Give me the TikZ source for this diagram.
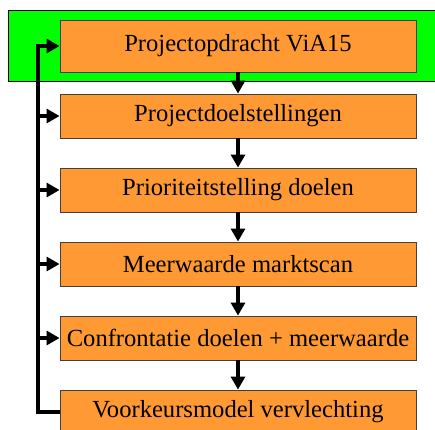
\documentclass[tikz,border=0pt]{standalone}
\usepackage{fontspec}
\setmainfont{Liberation Serif}
\usetikzlibrary{arrows.meta}
\definecolor{stepfill}{HTML}{FF9933}
\definecolor{bandgreen}{HTML}{00FF00}
\begin{document}
\begin{tikzpicture}[x=1pt,y=-1pt,
  stepbox/.style={draw=black!75, line width=0.9pt, fill=stepfill, minimum width=356pt,
    minimum height=44pt, inner sep=0pt, font=\fontsize{24.6}{26}\selectfont},
  flow/.style={line width=3.1pt, -{Triangle[length=13pt,width=14pt]}},
  feed/.style={line width=3.1pt}]
  \useasboundingbox (0,0) rectangle (435,429);
  \clip (0,0) rectangle (435,429);
  % highlighted start band
  \fill[bandgreen, draw=black, line width=0.9pt] (8,10) rectangle (440,81);
  % process steps
  \node[stepbox, minimum height=52pt] (s1) at (238,46) {Projectopdracht ViA15};
  \node[stepbox] (s2) at (238,116) {Projectdoelstellingen};
  \node[stepbox] (s3) at (238,190) {Prioriteitstelling doelen};
  \node[stepbox] (s4) at (238,264) {Meerwaarde marktscan};
  \node[stepbox] (s5) at (238,338) {Confrontatie doelen + meerwaarde};
  \node[stepbox] (s6) at (238,412) {Voorkeursmodel vervlechting};
  % main sequence
  \draw[flow] (s1.south) -- (s2.north);
  \draw[flow] (s2.south) -- (s3.north);
  \draw[flow] (s3.south) -- (s4.north);
  \draw[flow] (s4.south) -- (s5.north);
  \draw[flow] (s5.south) -- (s6.north);
  % feedback line on the left
  \coordinate (fb) at (38,0);
  \draw[feed] (s6.west) -- (s6.west -| fb) -- (s1.west -| fb);
  \draw[flow] (s1.west -| fb) ++(-1.55pt,0) -- (s1.west);
  \draw[flow] (s2.west -| fb) -- (s2.west);
  \draw[flow] (s3.west -| fb) -- (s3.west);
  \draw[flow] (s4.west -| fb) -- (s4.west);
  \draw[flow] (s5.west -| fb) -- (s5.west);
\end{tikzpicture}
\end{document}
